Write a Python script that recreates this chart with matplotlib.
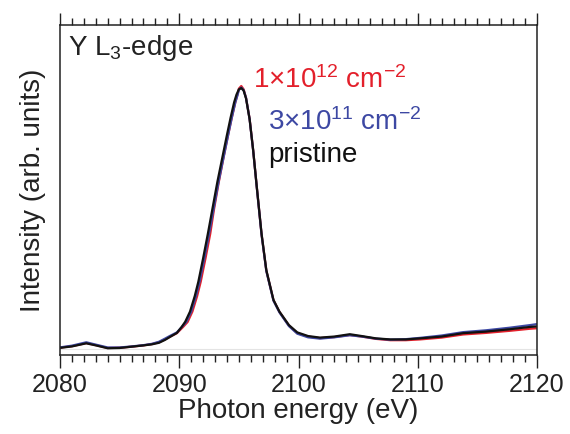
import matplotlib.pyplot as plt
from matplotlib.ticker import MultipleLocator

plt.rcParams['font.family'] = ['Liberation Sans', 'DejaVu Sans']
plt.rcParams['mathtext.default'] = 'regular'

# photon energy (eV) and intensity (arb. units)
energy_pristine = [2080.1, 2081.0, 2082.2, 2083.0, 2084.0, 2085.0, 2086.0, 2087.0, 2087.7,
                   2088.3, 2088.8, 2089.2, 2089.8, 2090.2, 2090.5, 2090.9, 2091.3, 2091.6,
                   2092.0, 2092.4, 2092.8, 2093.2, 2093.6, 2094.0, 2094.3, 2094.6, 2094.8,
                   2095.0, 2095.2, 2095.4, 2095.6, 2095.9, 2096.2, 2096.5, 2096.9, 2097.3,
                   2097.9, 2098.4, 2099.2, 2099.9, 2100.8, 2101.8, 2103.0, 2104.3, 2105.3,
                   2106.5, 2107.7, 2109.0, 2110.2, 2112.0, 2113.8, 2115.7, 2117.7, 2119.4,
                   2120.0]
int_pristine = [0.001, 0.006, 0.018, 0.010, -0.001, 0.000, 0.005, 0.010, 0.014,
                0.020, 0.031, 0.042, 0.058, 0.081, 0.101, 0.140, 0.200, 0.255,
                0.345, 0.440, 0.540, 0.640, 0.730, 0.820, 0.885, 0.945, 0.975,
                0.995, 1.000, 0.990, 0.960, 0.880, 0.760, 0.620, 0.440, 0.300,
                0.185, 0.140, 0.088, 0.060, 0.046, 0.040, 0.044, 0.053, 0.046,
                0.037, 0.033, 0.033, 0.037, 0.044, 0.057, 0.063, 0.072, 0.081,
                0.083]

energy_low = [2080.1, 2081.0, 2082.2, 2083.0, 2084.0, 2085.0, 2086.0, 2087.0, 2087.7,
              2088.3, 2088.8, 2089.2, 2089.8, 2090.2, 2090.6, 2091.0, 2091.4, 2091.7,
              2092.1, 2092.5, 2092.9, 2093.3, 2093.7, 2094.1, 2094.4, 2094.7, 2094.9,
              2095.0, 2095.2, 2095.4, 2095.6, 2095.9, 2096.2, 2096.5, 2096.9, 2097.3,
              2097.9, 2098.4, 2099.2, 2099.9, 2100.8, 2101.8, 2103.0, 2104.3, 2105.3,
              2106.5, 2107.7, 2109.0, 2110.2, 2112.0, 2113.8, 2115.7, 2117.7, 2119.4,
              2120.0]
int_low = [0.003, 0.009, 0.022, 0.013, 0.002, 0.002, 0.006, 0.011, 0.016,
           0.024, 0.036, 0.046, 0.060, 0.080, 0.101, 0.140, 0.200, 0.255,
           0.345, 0.440, 0.540, 0.640, 0.730, 0.820, 0.885, 0.945, 0.975,
           0.993, 1.002, 0.992, 0.962, 0.880, 0.758, 0.618, 0.436, 0.296,
           0.182, 0.137, 0.084, 0.055, 0.041, 0.036, 0.041, 0.049, 0.044,
           0.036, 0.032, 0.034, 0.039, 0.048, 0.061, 0.068, 0.078, 0.088,
           0.092]

energy_high = [2080.1, 2081.0, 2082.2, 2083.0, 2084.0, 2085.0, 2086.0, 2087.0, 2087.7,
               2088.3, 2088.8, 2089.2, 2089.8, 2090.3, 2090.7, 2091.1, 2091.5, 2091.8,
               2092.2, 2092.6, 2092.9, 2093.3, 2093.7, 2094.1, 2094.4, 2094.7, 2094.9,
               2095.0, 2095.2, 2095.4, 2095.6, 2095.9, 2096.2, 2096.5, 2096.9, 2097.3,
               2097.9, 2098.4, 2099.2, 2099.9, 2100.8, 2101.8, 2103.0, 2104.3, 2105.3,
               2106.5, 2107.7, 2109.0, 2110.2, 2112.0, 2113.8, 2115.7, 2117.7, 2119.4,
               2120.0]
int_high = [0.002, 0.007, 0.019, 0.011, 0.000, 0.001, 0.005, 0.010, 0.015,
            0.022, 0.033, 0.043, 0.057, 0.080, 0.100, 0.140, 0.200, 0.255,
            0.345, 0.440, 0.530, 0.635, 0.730, 0.820, 0.885, 0.945, 0.978,
            0.998, 1.008, 0.995, 0.962, 0.882, 0.760, 0.620, 0.438, 0.298,
            0.184, 0.139, 0.086, 0.057, 0.044, 0.038, 0.042, 0.050, 0.044,
            0.035, 0.030, 0.030, 0.033, 0.040, 0.052, 0.058, 0.066, 0.074,
            0.076]

labels = ['1×10$^{12}$ cm$^{-2}$', '3×10$^{11}$ cm$^{-2}$', 'pristine']
colors = ['#e3202b', '#3d48a3', '#111111']

fig = plt.figure(figsize=(5.7, 4.34), dpi=100)
ax = fig.add_axes([0.1053, 0.182, 0.8368, 0.760])

ax.axhline(-0.004, color='#e4e4e4', lw=0.8, zorder=0)
ax.plot(energy_high, int_high, color=colors[0], lw=1.6)
ax.plot(energy_low, int_low, color=colors[1], lw=1.6)
ax.plot(energy_pristine, int_pristine, color=colors[2], lw=1.6)

ax.set_xlim(2080, 2120)
ax.set_ylim(-0.027, 1.242)
ax.xaxis.set_major_locator(MultipleLocator(10))
ax.xaxis.set_minor_locator(MultipleLocator(1))
ax.tick_params(axis='x', which='both', direction='out', top=True, bottom=True,
               labelsize=18, width=1, pad=4, colors='#222222')
ax.tick_params(axis='x', which='major', length=9)
ax.tick_params(axis='x', which='minor', length=5)
ax.set_yticks([])
for s in ax.spines.values():
    s.set_linewidth(1.1)
    s.set_color('#222222')

ax.set_xlabel('Photon energy (eV)', fontsize=20, labelpad=1, color='#222222')
ax.set_ylabel('Intensity (arb. units)', fontsize=20, labelpad=10, color='#222222')

ax.text(0.017, 0.909, 'Y L$_3$-edge', transform=ax.transAxes, fontsize=20,
        va='baseline', ha='left', color='#222222')
ax.text(0.405, 0.809, labels[0], transform=ax.transAxes, fontsize=20,
        va='baseline', ha='left', color=colors[0])
ax.text(0.436, 0.682, labels[1], transform=ax.transAxes, fontsize=20,
        va='baseline', ha='left', color=colors[1])
ax.text(0.436, 0.585, labels[2], transform=ax.transAxes, fontsize=20,
        va='baseline', ha='left', color=colors[2])

fig.savefig('out.png', dpi=100)
